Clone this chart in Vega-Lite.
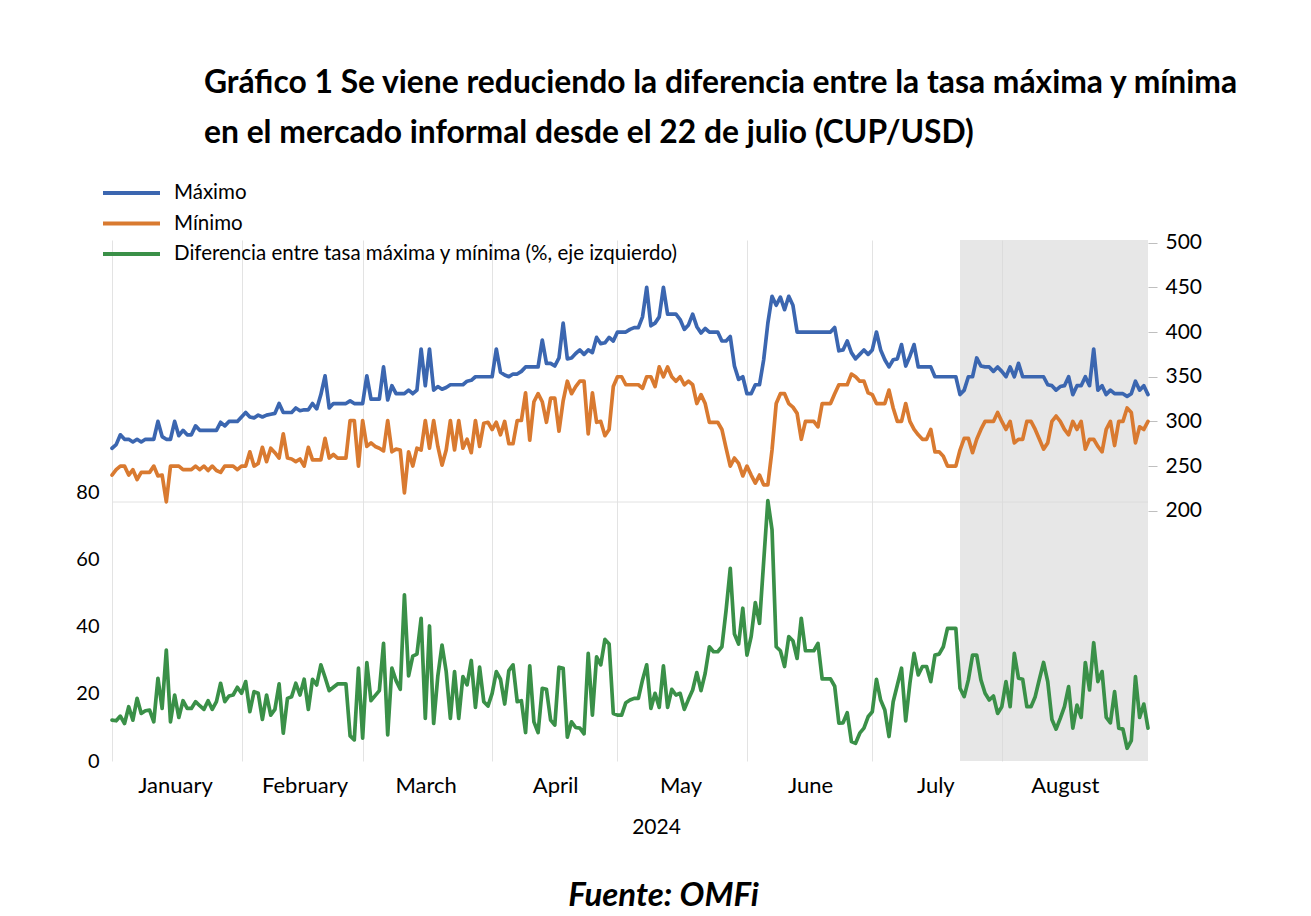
{
"$schema": "https://vega.github.io/schema/vega-lite/v6.json",
"width": 1036, "height": 521,
"autosize": {"type": "none"},
"padding": {"left": 112, "top": 240, "right": 163, "bottom": 155},
"background": "white",
"config": {"font": "Lato", "view": {"stroke": null}, "axis": {"labelFont": "Lato", "titleFont": "Lato", "labelColor": "#000", "titleColor": "#000"}, "legend": {"title": null}},
"title": {"text": ["Gráfico 1 Se viene reduciendo la diferencia entre la tasa máxima y mínima", "en el mercado informal desde el 22 de julio (CUP/USD)"], "anchor": "start", "frame": "group", "dx": 92, "fontSize": 31.8, "font": "Lato", "fontWeight": "bold", "lineHeight": 50, "color": "#000", "baseline": "middle", "offset": 19},
"data": {"format": {"parse": {"fecha": "date:'%Y-%m-%d'"}}, "values": [
{"fecha":"2024-01-01","max":270,"min":240,"dif":12.2},
{"fecha":"2024-01-02","max":274,"min":246,"dif":12},
{"fecha":"2024-01-03","max":285,"min":250,"dif":13.4},
{"fecha":"2024-01-04","max":280,"min":250,"dif":11.2},
{"fecha":"2024-01-05","max":280,"min":240,"dif":16.2},
{"fecha":"2024-01-06","max":277,"min":246,"dif":12.2},
{"fecha":"2024-01-07","max":280,"min":235,"dif":18.7},
{"fecha":"2024-01-08","max":277,"min":243,"dif":14.2},
{"fecha":"2024-01-09","max":280,"min":243,"dif":15},
{"fecha":"2024-01-10","max":280,"min":243,"dif":15.2},
{"fecha":"2024-01-11","max":280,"min":250,"dif":11.7},
{"fecha":"2024-01-12","max":300,"min":239,"dif":24.7},
{"fecha":"2024-01-13","max":283,"min":240,"dif":15.7},
{"fecha":"2024-01-14","max":280,"min":210,"dif":33.1},
{"fecha":"2024-01-15","max":280,"min":250,"dif":11.7},
{"fecha":"2024-01-16","max":300,"min":250,"dif":19.7},
{"fecha":"2024-01-17","max":284,"min":250,"dif":13},
{"fecha":"2024-01-18","max":290,"min":246,"dif":18},
{"fecha":"2024-01-19","max":285,"min":246,"dif":15.7},
{"fecha":"2024-01-20","max":285,"min":246,"dif":15.7},
{"fecha":"2024-01-21","max":295,"min":250,"dif":17.7},
{"fecha":"2024-01-22","max":290,"min":246,"dif":16.5},
{"fecha":"2024-01-23","max":290,"min":250,"dif":15.4},
{"fecha":"2024-01-24","max":290,"min":245,"dif":18},
{"fecha":"2024-01-25","max":290,"min":250,"dif":15.4},
{"fecha":"2024-01-26","max":290,"min":245,"dif":17.7},
{"fecha":"2024-01-27","max":299,"min":243,"dif":23.2},
{"fecha":"2024-01-28","max":295,"min":250,"dif":17.7},
{"fecha":"2024-01-29","max":300,"min":250,"dif":19.4},
{"fecha":"2024-01-30","max":300,"min":250,"dif":19.7},
{"fecha":"2024-01-31","max":300,"min":246,"dif":22},
{"fecha":"2024-02-01","max":305,"min":250,"dif":20.2},
{"fecha":"2024-02-02","max":310,"min":250,"dif":23.7},
{"fecha":"2024-02-03","max":305,"min":266,"dif":14.7},
{"fecha":"2024-02-04","max":304,"min":250,"dif":20.7},
{"fecha":"2024-02-05","max":307,"min":253,"dif":20.2},
{"fecha":"2024-02-06","max":305,"min":271,"dif":12.4},
{"fecha":"2024-02-07","max":307,"min":255,"dif":19.7},
{"fecha":"2024-02-08","max":308,"min":270,"dif":13.7},
{"fecha":"2024-02-09","max":309,"min":265,"dif":15.4},
{"fecha":"2024-02-10","max":320,"min":259,"dif":23},
{"fecha":"2024-02-11","max":310,"min":286,"dif":8.3},
{"fecha":"2024-02-12","max":310,"min":259,"dif":18.7},
{"fecha":"2024-02-13","max":310,"min":258,"dif":19.2},
{"fecha":"2024-02-14","max":315,"min":255,"dif":23.2},
{"fecha":"2024-02-15","max":312,"min":258,"dif":19.7},
{"fecha":"2024-02-16","max":313,"min":250,"dif":24.4},
{"fecha":"2024-02-17","max":313,"min":271,"dif":15.4},
{"fecha":"2024-02-18","max":320,"min":257,"dif":24.4},
{"fecha":"2024-02-19","max":314,"min":257,"dif":22.7},
{"fecha":"2024-02-20","max":330,"min":257,"dif":28.7},
{"fecha":"2024-02-21","max":351,"min":281,"dif":25},
{"fecha":"2024-02-22","max":315,"min":259,"dif":21},
{"fecha":"2024-02-23","max":320,"min":263,"dif":22},
{"fecha":"2024-02-24","max":320,"min":259,"dif":23},
{"fecha":"2024-02-25","max":320,"min":259,"dif":23},
{"fecha":"2024-02-26","max":320,"min":259,"dif":23},
{"fecha":"2024-02-27","max":323,"min":301,"dif":7.5},
{"fecha":"2024-02-28","max":320,"min":301,"dif":6.3},
{"fecha":"2024-02-29","max":320,"min":250,"dif":27.7},
{"fecha":"2024-03-01","max":320,"min":301,"dif":6.8},
{"fecha":"2024-03-02","max":351,"min":272,"dif":29.4},
{"fecha":"2024-03-03","max":325,"min":276,"dif":18},
{"fecha":"2024-03-04","max":325,"min":272,"dif":19.5},
{"fecha":"2024-03-05","max":325,"min":270,"dif":21},
{"fecha":"2024-03-06","max":361,"min":267,"dif":35.1},
{"fecha":"2024-03-07","max":324,"min":301,"dif":7.8},
{"fecha":"2024-03-08","max":340,"min":266,"dif":27.7},
{"fecha":"2024-03-09","max":331,"min":269,"dif":24},
{"fecha":"2024-03-10","max":331,"min":268,"dif":21.4},
{"fecha":"2024-03-11","max":331,"min":220,"dif":49.6},
{"fecha":"2024-03-12","max":335,"min":266,"dif":25.4},
{"fecha":"2024-03-13","max":331,"min":250,"dif":31.3},
{"fecha":"2024-03-14","max":335,"min":270,"dif":31.9},
{"fecha":"2024-03-15","max":381,"min":268,"dif":42.6},
{"fecha":"2024-03-16","max":340,"min":301,"dif":12.7},
{"fecha":"2024-03-17","max":381,"min":270,"dif":40.3},
{"fecha":"2024-03-18","max":335,"min":301,"dif":11.2},
{"fecha":"2024-03-19","max":339,"min":272,"dif":25.4},
{"fecha":"2024-03-20","max":336,"min":251,"dif":34.6},
{"fecha":"2024-03-21","max":338,"min":268,"dif":26.7},
{"fecha":"2024-03-22","max":341,"min":301,"dif":12.7},
{"fecha":"2024-03-23","max":341,"min":268,"dif":26.7},
{"fecha":"2024-03-24","max":341,"min":301,"dif":12.7},
{"fecha":"2024-03-25","max":341,"min":270,"dif":25.2},
{"fecha":"2024-03-26","max":345,"min":280,"dif":22.7},
{"fecha":"2024-03-27","max":346,"min":265,"dif":30},
{"fecha":"2024-03-28","max":350,"min":301,"dif":16},
{"fecha":"2024-03-29","max":350,"min":272,"dif":28},
{"fecha":"2024-03-30","max":350,"min":298,"dif":17.7},
{"fecha":"2024-03-31","max":350,"min":299,"dif":16.4},
{"fecha":"2024-04-01","max":350,"min":291,"dif":20.2},
{"fecha":"2024-04-02","max":381,"min":299,"dif":26.7},
{"fecha":"2024-04-03","max":355,"min":285,"dif":24.4},
{"fecha":"2024-04-04","max":352,"min":300,"dif":17},
{"fecha":"2024-04-05","max":350,"min":275,"dif":27},
{"fecha":"2024-04-06","max":353,"min":275,"dif":28.7},
{"fecha":"2024-04-07","max":353,"min":301,"dif":17.7},
{"fecha":"2024-04-08","max":356,"min":301,"dif":18},
{"fecha":"2024-04-09","max":361,"min":332,"dif":8.5},
{"fecha":"2024-04-10","max":361,"min":279,"dif":28.4},
{"fecha":"2024-04-11","max":361,"min":322,"dif":11.7},
{"fecha":"2024-04-12","max":361,"min":331,"dif":8.5},
{"fecha":"2024-04-13","max":391,"min":322,"dif":21.7},
{"fecha":"2024-04-14","max":365,"min":299,"dif":21.4},
{"fecha":"2024-04-15","max":365,"min":326,"dif":12.2},
{"fecha":"2024-04-16","max":362,"min":326,"dif":10.7},
{"fecha":"2024-04-17","max":371,"min":289,"dif":28},
{"fecha":"2024-04-18","max":410,"min":323,"dif":27.7},
{"fecha":"2024-04-19","max":370,"min":345,"dif":7.1},
{"fecha":"2024-04-20","max":371,"min":331,"dif":11.7},
{"fecha":"2024-04-21","max":376,"min":339,"dif":10},
{"fecha":"2024-04-22","max":380,"min":345,"dif":9.8},
{"fecha":"2024-04-23","max":375,"min":345,"dif":8.1},
{"fecha":"2024-04-24","max":380,"min":286,"dif":32.1},
{"fecha":"2024-04-25","max":377,"min":332,"dif":13.7},
{"fecha":"2024-04-26","max":394,"min":299,"dif":31.1},
{"fecha":"2024-04-27","max":387,"min":300,"dif":28.7},
{"fecha":"2024-04-28","max":388,"min":284,"dif":36.3},
{"fecha":"2024-04-29","max":394,"min":291,"dif":34.9},
{"fecha":"2024-04-30","max":390,"min":339,"dif":14.2},
{"fecha":"2024-05-01","max":400,"min":350,"dif":13.7},
{"fecha":"2024-05-02","max":400,"min":350,"dif":13.7},
{"fecha":"2024-05-03","max":400,"min":341,"dif":17.4},
{"fecha":"2024-05-04","max":403,"min":341,"dif":18.2},
{"fecha":"2024-05-05","max":405,"min":341,"dif":18.7},
{"fecha":"2024-05-06","max":405,"min":341,"dif":18.7},
{"fecha":"2024-05-07","max":417,"min":337,"dif":24.2},
{"fecha":"2024-05-08","max":450,"min":350,"dif":28.7},
{"fecha":"2024-05-09","max":407,"min":350,"dif":15.7},
{"fecha":"2024-05-10","max":410,"min":339,"dif":20.2},
{"fecha":"2024-05-11","max":417,"min":361,"dif":16},
{"fecha":"2024-05-12","max":450,"min":350,"dif":28.4},
{"fecha":"2024-05-13","max":420,"min":361,"dif":16},
{"fecha":"2024-05-14","max":420,"min":350,"dif":21.4},
{"fecha":"2024-05-15","max":420,"min":345,"dif":19.7},
{"fecha":"2024-05-16","max":414,"min":350,"dif":20.2},
{"fecha":"2024-05-17","max":403,"min":341,"dif":15.4},
{"fecha":"2024-05-18","max":408,"min":345,"dif":18.4},
{"fecha":"2024-05-19","max":420,"min":341,"dif":21.2},
{"fecha":"2024-05-20","max":406,"min":320,"dif":26.4},
{"fecha":"2024-05-21","max":399,"min":330,"dif":21},
{"fecha":"2024-05-22","max":404,"min":320,"dif":26.2},
{"fecha":"2024-05-23","max":400,"min":299,"dif":34.1},
{"fecha":"2024-05-24","max":400,"min":299,"dif":32.6},
{"fecha":"2024-05-25","max":400,"min":299,"dif":32.6},
{"fecha":"2024-05-26","max":390,"min":291,"dif":34.1},
{"fecha":"2024-05-27","max":390,"min":270,"dif":45},
{"fecha":"2024-05-28","max":395,"min":250,"dif":57.5},
{"fecha":"2024-05-29","max":362,"min":259,"dif":37.9},
{"fecha":"2024-05-30","max":347,"min":253,"dif":34.9},
{"fecha":"2024-05-31","max":350,"min":239,"dif":45.6},
{"fecha":"2024-06-01","max":331,"min":250,"dif":31.6},
{"fecha":"2024-06-02","max":331,"min":240,"dif":37.1},
{"fecha":"2024-06-03","max":341,"min":231,"dif":47.3},
{"fecha":"2024-06-04","max":341,"min":240,"dif":41.1},
{"fecha":"2024-06-05","max":369,"min":229,"dif":59.5},
{"fecha":"2024-06-06","max":410,"min":229,"dif":77.7},
{"fecha":"2024-06-07","max":440,"min":268,"dif":69},
{"fecha":"2024-06-08","max":430,"min":320,"dif":34.1},
{"fecha":"2024-06-09","max":439,"min":331,"dif":32.9},
{"fecha":"2024-06-10","max":425,"min":331,"dif":28.2},
{"fecha":"2024-06-11","max":440,"min":320,"dif":37.1},
{"fecha":"2024-06-12","max":430,"min":316,"dif":35.9},
{"fecha":"2024-06-13","max":400,"min":309,"dif":30.6},
{"fecha":"2024-06-14","max":400,"min":280,"dif":42.6},
{"fecha":"2024-06-15","max":400,"min":300,"dif":32.9},
{"fecha":"2024-06-16","max":400,"min":300,"dif":32.9},
{"fecha":"2024-06-17","max":400,"min":300,"dif":32.9},
{"fecha":"2024-06-18","max":400,"min":294,"dif":35.1},
{"fecha":"2024-06-19","max":400,"min":320,"dif":24.5},
{"fecha":"2024-06-20","max":400,"min":320,"dif":24.5},
{"fecha":"2024-06-21","max":400,"min":320,"dif":24.5},
{"fecha":"2024-06-22","max":405,"min":331,"dif":22.3},
{"fecha":"2024-06-23","max":379,"min":341,"dif":11.3},
{"fecha":"2024-06-24","max":380,"min":341,"dif":11.4},
{"fecha":"2024-06-25","max":390,"min":341,"dif":14.4},
{"fecha":"2024-06-26","max":377,"min":353,"dif":5.8},
{"fecha":"2024-06-27","max":370,"min":350,"dif":5.3},
{"fecha":"2024-06-28","max":375,"min":345,"dif":8.3},
{"fecha":"2024-06-29","max":380,"min":345,"dif":9.8},
{"fecha":"2024-06-30","max":375,"min":332,"dif":13.2},
{"fecha":"2024-07-01","max":380,"min":330,"dif":14.7},
{"fecha":"2024-07-02","max":400,"min":320,"dif":24.4},
{"fecha":"2024-07-03","max":380,"min":320,"dif":18.2},
{"fecha":"2024-07-04","max":369,"min":320,"dif":15.2},
{"fecha":"2024-07-05","max":361,"min":335,"dif":7.3},
{"fecha":"2024-07-06","max":369,"min":315,"dif":17.7},
{"fecha":"2024-07-07","max":370,"min":300,"dif":22.7},
{"fecha":"2024-07-08","max":386,"min":300,"dif":27.7},
{"fecha":"2024-07-09","max":362,"min":320,"dif":12},
{"fecha":"2024-07-10","max":373,"min":300,"dif":23.2},
{"fecha":"2024-07-11","max":386,"min":291,"dif":32.1},
{"fecha":"2024-07-12","max":361,"min":285,"dif":25.7},
{"fecha":"2024-07-13","max":361,"min":280,"dif":28.2},
{"fecha":"2024-07-14","max":361,"min":280,"dif":28.2},
{"fecha":"2024-07-15","max":361,"min":291,"dif":23.7},
{"fecha":"2024-07-16","max":350,"min":266,"dif":31.6},
{"fecha":"2024-07-17","max":350,"min":266,"dif":31.9},
{"fecha":"2024-07-18","max":350,"min":261,"dif":34.1},
{"fecha":"2024-07-19","max":350,"min":250,"dif":39.6},
{"fecha":"2024-07-20","max":350,"min":250,"dif":39.6},
{"fecha":"2024-07-21","max":350,"min":250,"dif":39.6},
{"fecha":"2024-07-22","max":330,"min":268,"dif":21.7},
{"fecha":"2024-07-23","max":335,"min":281,"dif":19.2},
{"fecha":"2024-07-24","max":350,"min":281,"dif":24.2},
{"fecha":"2024-07-25","max":350,"min":265,"dif":31.6},
{"fecha":"2024-07-26","max":371,"min":280,"dif":31.6},
{"fecha":"2024-07-27","max":362,"min":291,"dif":24.2},
{"fecha":"2024-07-28","max":361,"min":300,"dif":20.2},
{"fecha":"2024-07-29","max":361,"min":300,"dif":18.2},
{"fecha":"2024-07-30","max":356,"min":300,"dif":19.4},
{"fecha":"2024-07-31","max":361,"min":310,"dif":14.2},
{"fecha":"2024-08-01","max":356,"min":300,"dif":16.2},
{"fecha":"2024-08-02","max":350,"min":291,"dif":23.7},
{"fecha":"2024-08-03","max":361,"min":300,"dif":16.2},
{"fecha":"2024-08-04","max":350,"min":276,"dif":32.1},
{"fecha":"2024-08-05","max":365,"min":280,"dif":24.7},
{"fecha":"2024-08-06","max":350,"min":280,"dif":24.4},
{"fecha":"2024-08-07","max":350,"min":300,"dif":16.2},
{"fecha":"2024-08-08","max":350,"min":300,"dif":16.2},
{"fecha":"2024-08-09","max":350,"min":291,"dif":19.2},
{"fecha":"2024-08-10","max":350,"min":280,"dif":24.4},
{"fecha":"2024-08-11","max":350,"min":269,"dif":29.4},
{"fecha":"2024-08-12","max":341,"min":276,"dif":23.7},
{"fecha":"2024-08-13","max":340,"min":300,"dif":12.4},
{"fecha":"2024-08-14","max":335,"min":306,"dif":9.5},
{"fecha":"2024-08-15","max":339,"min":300,"dif":12.7},
{"fecha":"2024-08-16","max":340,"min":291,"dif":16.2},
{"fecha":"2024-08-17","max":350,"min":285,"dif":22.2},
{"fecha":"2024-08-18","max":330,"min":300,"dif":9.8},
{"fecha":"2024-08-19","max":340,"min":291,"dif":16.7},
{"fecha":"2024-08-20","max":340,"min":300,"dif":13},
{"fecha":"2024-08-21","max":350,"min":269,"dif":29.4},
{"fecha":"2024-08-22","max":340,"min":280,"dif":21.2},
{"fecha":"2024-08-23","max":381,"min":280,"dif":35.3},
{"fecha":"2024-08-24","max":335,"min":272,"dif":23.7},
{"fecha":"2024-08-25","max":340,"min":266,"dif":26.7},
{"fecha":"2024-08-26","max":330,"min":291,"dif":13},
{"fecha":"2024-08-27","max":335,"min":300,"dif":11.4},
{"fecha":"2024-08-28","max":331,"min":273,"dif":20.7},
{"fecha":"2024-08-29","max":331,"min":300,"dif":9.8},
{"fecha":"2024-08-30","max":331,"min":300,"dif":9.5},
{"fecha":"2024-08-31","max":328,"min":315,"dif":3.8},
{"fecha":"2024-09-01","max":331,"min":310,"dif":6.1},
{"fecha":"2024-09-02","max":345,"min":276,"dif":25.2},
{"fecha":"2024-09-03","max":335,"min":294,"dif":13},
{"fecha":"2024-09-04","max":340,"min":291,"dif":17},
{"fecha":"2024-09-05","max":330,"min":300,"dif":9.8}
]},
"layer": [
{"data": {"values": [{}]},
 "mark": {"type": "rule", "color": "#e2e2e2", "strokeWidth": 1},
 "encoding": {"y": {"datum": 77.3, "type": "quantitative", "scale": {"domain": [0, 155.5], "nice": false, "zero": false}, "axis": null}}},
{"data": {"values": [{}]},
 "mark": {"type": "rect", "color": "#d9d9d9", "opacity": 0.62},
 "encoding": {
   "x": {"datum": {"year": 2024, "month": 7, "date": 22}, "type": "temporal", "scale": {"domain": [{"year": 2024, "month": 1, "date": 1}, {"year": 2024, "month": 9, "date": 5}]}},
   "x2": {"datum": {"year": 2024, "month": 9, "date": 5}}}},
{"mark": {"type": "line", "strokeWidth": 3.7, "strokeJoin": "round", "strokeCap": "round"},
 "encoding": {
   "x": {"field": "fecha", "type": "temporal",
     "scale": {"domain": [{"year": 2024, "month": 1, "date": 1}, {"year": 2024, "month": 9, "date": 5}]},
     "axis": {"values": [{"year": 2024, "month": 1, "date": 1}, {"year": 2024, "month": 2, "date": 1}, {"year": 2024, "month": 3, "date": 1}, {"year": 2024, "month": 4, "date": 1}, {"year": 2024, "month": 5, "date": 1}, {"year": 2024, "month": 6, "date": 1}, {"year": 2024, "month": 7, "date": 1}, {"year": 2024, "month": 8, "date": 1}],
       "format": "%B", "labelOffset": 63, "labelAlign": "center", "labelBaseline": "middle", "labelPadding": 24, "ticks": false, "tickSize": 0, "domain": false, "grid": true, "gridColor": "#e3e3e3", "gridWidth": 1, "labelFontSize": 22, "labelOverlap": false, "labelBound": false, "labelFlush": false,
       "title": "2024", "titleFontSize": 21, "titleFontWeight": "normal", "titleX": 544, "titleY": 66, "titleAlign": "center", "titleBaseline": "middle", "titleAnchor": null}},
   "y": {"field": "dif", "type": "quantitative", "scale": {"domain": [0, 155.5], "nice": false, "zero": false},
     "axis": {"orient": "left", "values": [0, 20, 40, 60, 80], "ticks": false, "domain": false, "grid": false, "labelFontSize": 20, "labelPadding": 13, "title": null}},
   "color": {"datum": "dif", "type": "nominal",
     "scale": {"domain": ["max", "min", "dif"], "range": ["#3b66b0", "#d97a30", "#3a9048"]},
     "legend": {"orient": "none", "legendX": -11, "legendY": -56, "title": null, "symbolType": "stroke", "symbolSize": 3249, "symbolStrokeWidth": 4, "clipHeight": 18, "rowPadding": 9.5, "labelOffset": 12, "labelFontSize": 20.5, "labelFont": "Lato", "labelColor": "#000", "padding": 0, "labelLimit": 0,
       "labelExpr": "datum.value == 'max' ? 'Máximo' : datum.value == 'min' ? 'Mínimo' : 'Diferencia entre tasa máxima y mínima (%, eje izquierdo)'"}}}},
{"transform": [{"fold": ["max", "min"], "as": ["serie", "valor"]}],
 "mark": {"type": "line", "strokeWidth": 3.7, "strokeJoin": "round", "strokeCap": "round"},
 "encoding": {
   "x": {"field": "fecha", "type": "temporal", "scale": {"domain": [{"year": 2024, "month": 1, "date": 1}, {"year": 2024, "month": 9, "date": 5}]}},
   "y": {"field": "valor", "type": "quantitative", "scale": {"domain": [-80, 503], "nice": false, "zero": false},
     "axis": {"orient": "right", "values": [200, 250, 300, 350, 400, 450, 500], "ticks": true, "tickSize": 9, "tickColor": "#bfbfbf", "domain": false, "grid": false, "labelFontSize": 21, "labelPadding": 8,
       "title": "Fuente: OMFi", "titleAngle": 0, "titleX": -485, "titleY": 655, "titleFontSize": 33, "titleFontStyle": "italic", "titleFontWeight": "bold", "titleAlign": "center", "titleBaseline": "middle"}},
   "color": {"field": "serie", "type": "nominal", "legend": {"title": null}}}}
],
"resolve": {"scale": {"y": "independent"}}
}
